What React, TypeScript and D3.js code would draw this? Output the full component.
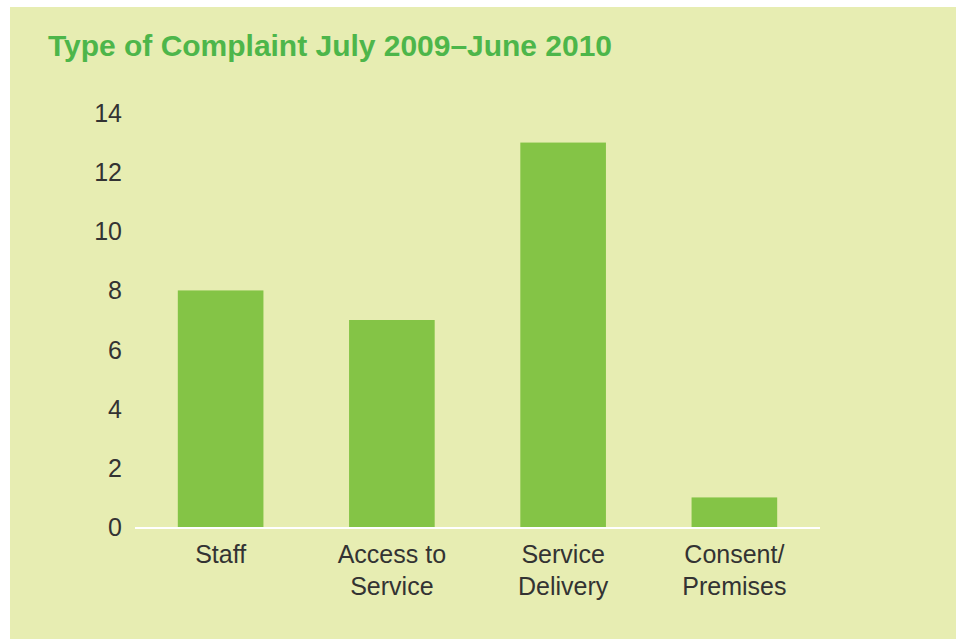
import * as d3 from 'd3';

const categories = [['Staff'], ['Access to', 'Service'], ['Service', 'Delivery'], ['Consent/', 'Premises']];
const values = [8, 7, 13, 1];
const yTicks = [0, 2, 4, 6, 8, 10, 12, 14];

const W = 963;
const H = 639;

export default function App() {
  const keys = categories.map((c) => c.join(' '));
  const x = d3.scaleBand().domain(keys).range([135, 820]).paddingInner(0.5).paddingOuter(0.25);
  const y = d3.scaleLinear().domain([0, 14]).range([527, 113]);
  const font = '"Liberation Sans", Arial, sans-serif';

  return (
    <svg width={W} height={H} style={{ position: 'absolute', left: 0, top: 0 }}>
      <rect x={0} y={0} width={W} height={H} fill="#fff" />
      <rect x={10} y={7} width={946} height={H - 7} fill="#e7edb2" />
      <text x={48} y={56} fill="#4db64a" fontFamily={font} fontWeight="bold" fontSize={30} textLength={564}>
        Type of Complaint July 2009–June 2010
      </text>
      {yTicks.map((t) => (
        <text key={t} x={122} y={y(t)} dy="0.36em" textAnchor="end" fill="#333" fontFamily={font} fontSize={25}>
          {t}
        </text>
      ))}
      {values.map((v, i) => (
        <rect key={keys[i]} x={x(keys[i])} y={y(v)} width={x.bandwidth()} height={y(0) - y(v)} fill="#84c446" />
      ))}
      <line x1={135} x2={820} y1={y(0) + 1} y2={y(0) + 1} stroke="#fff" strokeWidth={2} />
      {categories.map((c, i) => (
        <text key={keys[i]} x={(x(keys[i]) as number) + x.bandwidth() / 2} textAnchor="middle" fill="#333" fontFamily={font} fontSize={25}>
          {c.map((line, j) => (
            <tspan key={j} x={(x(keys[i]) as number) + x.bandwidth() / 2} y={563 + j * 32}>
              {line}
            </tspan>
          ))}
        </text>
      ))}
    </svg>
  );
}
